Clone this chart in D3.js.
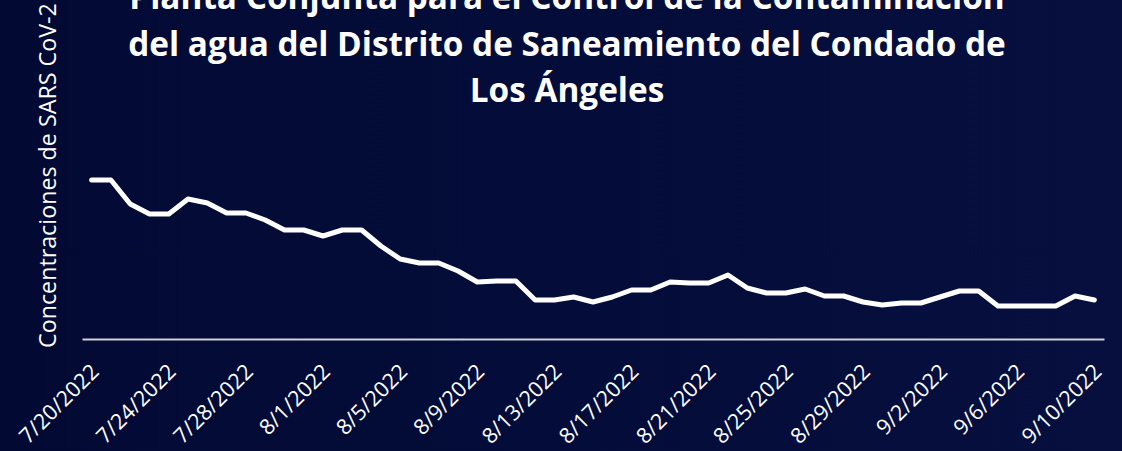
<!DOCTYPE html>
<html>
<head>
<meta charset="utf-8">
<script src="https://cdn.jsdelivr.net/npm/d3@7"></script>
<style>
  html, body { margin: 0; padding: 0; background: #030b38; }
  svg { display: block; }
</style>
</head>
<body>
<svg id="chart"></svg>
<script>
// Datos (fechas de muestreo y concentraciones)
const dates = [
  "7/20/2022","7/21/2022","7/22/2022","7/23/2022","7/24/2022","7/25/2022","7/26/2022","7/27/2022",
  "7/28/2022","7/29/2022","7/30/2022","7/31/2022","8/1/2022","8/2/2022","8/3/2022","8/4/2022",
  "8/5/2022","8/6/2022","8/7/2022","8/8/2022","8/9/2022","8/10/2022","8/11/2022","8/12/2022",
  "8/13/2022","8/14/2022","8/15/2022","8/16/2022","8/17/2022","8/18/2022","8/19/2022","8/20/2022",
  "8/21/2022","8/22/2022","8/23/2022","8/24/2022","8/25/2022","8/26/2022","8/27/2022","8/28/2022",
  "8/29/2022","8/30/2022","8/31/2022","9/1/2022","9/2/2022","9/3/2022","9/4/2022","9/5/2022",
  "9/6/2022","9/7/2022","9/8/2022","9/9/2022","9/10/2022"
];
const concentration = [
  159, 159, 135, 125, 125, 140, 136, 126, 126, 119, 109, 109, 103, 109, 109, 93,
  80, 76, 76, 68, 57, 58, 58, 39, 39, 42, 37, 42, 49, 49, 57, 56,
  56, 64, 51, 46, 46, 50, 43, 43, 37, 34, 36, 36, 42, 48, 48, 33,
  33, 33, 33, 43, 39
];
const tickDates = dates.filter((d, i) => i % 4 === 0);
const titleLines = [
  "Planta Conjunta para el Control de la Contaminación",
  "del agua del Distrito de Saneamiento del Condado de",
  "Los Ángeles"
];
const yLabel = "Concentraciones de SARS CoV-2";

const width = 1122, height = 451;
const margin = { top: 139, right: 18, bottom: 112, left: 82 };
const font = "'Open Sans', sans-serif";

const svg = d3.select("#chart")
  .attr("width", width)
  .attr("height", height);

// fondo
const grad = svg.append("defs").append("linearGradient")
  .attr("id", "bg").attr("x1", 0).attr("x2", 1).attr("y1", 0).attr("y2", 0);
grad.append("stop").attr("offset", 0).attr("stop-color", "#020a34");
grad.append("stop").attr("offset", 1).attr("stop-color", "#060f3e");
svg.append("rect").attr("width", width).attr("height", height).attr("fill", "url(#bg)");

// escalas
const x = d3.scalePoint()
  .domain(dates)
  .range([margin.left, width - margin.right])
  .padding(0.5);

const y = d3.scaleLinear()
  .domain([0, 200])
  .range([height - margin.bottom, margin.top]);

// eje X
const xAxis = svg.append("g")
  .attr("transform", `translate(0,${height - margin.bottom})`)
  .call(d3.axisBottom(x).tickValues(tickDates).tickSize(0).tickSizeOuter(0));

xAxis.select(".domain")
  .attr("stroke", "#d0d0d8")
  .attr("stroke-width", 2);

xAxis.selectAll(".tick text")
  .attr("fill", "#ffffff")
  .attr("font-family", font)
  .attr("font-size", "21.5px")
  .attr("text-anchor", "end")
  .attr("x", 0).attr("y", 0).attr("dy", 0)
  .attr("transform", "translate(8,34) rotate(-45)");

// línea
const line = d3.line()
  .x((d, i) => x(dates[i]))
  .y(d => y(d));

svg.append("path")
  .datum(concentration)
  .attr("fill", "none")
  .attr("stroke", "#ffffff")
  .attr("stroke-width", 5)
  .attr("stroke-linejoin", "round")
  .attr("stroke-linecap", "round")
  .attr("d", line);

// etiqueta eje Y
const yText = svg.append("text")
  .attr("transform", `translate(56,348) rotate(-90)`)
  .attr("text-anchor", "start")
  .attr("fill", "#ffffff")
  .attr("font-family", font)
  .attr("font-size", "22px")
  .text(yLabel);
const yLen = yText.node().getComputedTextLength();
yText.attr("font-size", (22 * 345 / yLen) + "px");

// título
const title = svg.append("g")
  .attr("font-family", font)
  .attr("font-weight", "bold")
  .attr("fill", "#ffffff")
  .attr("text-anchor", "middle");

const titleSize = 30;
const tLines = title.selectAll("text")
  .data(titleLines)
  .join("text")
  .attr("x", 567)
  .attr("y", (d, i) => 9 + i * 46.5)
  .attr("font-size", titleSize + "px")
  .text(d => d);
const tLen = tLines.filter((d, i) => i === 1).node().getComputedTextLength();
tLines.attr("font-size", (titleSize * 878 / tLen) + "px");
</script>
</body>
</html>
